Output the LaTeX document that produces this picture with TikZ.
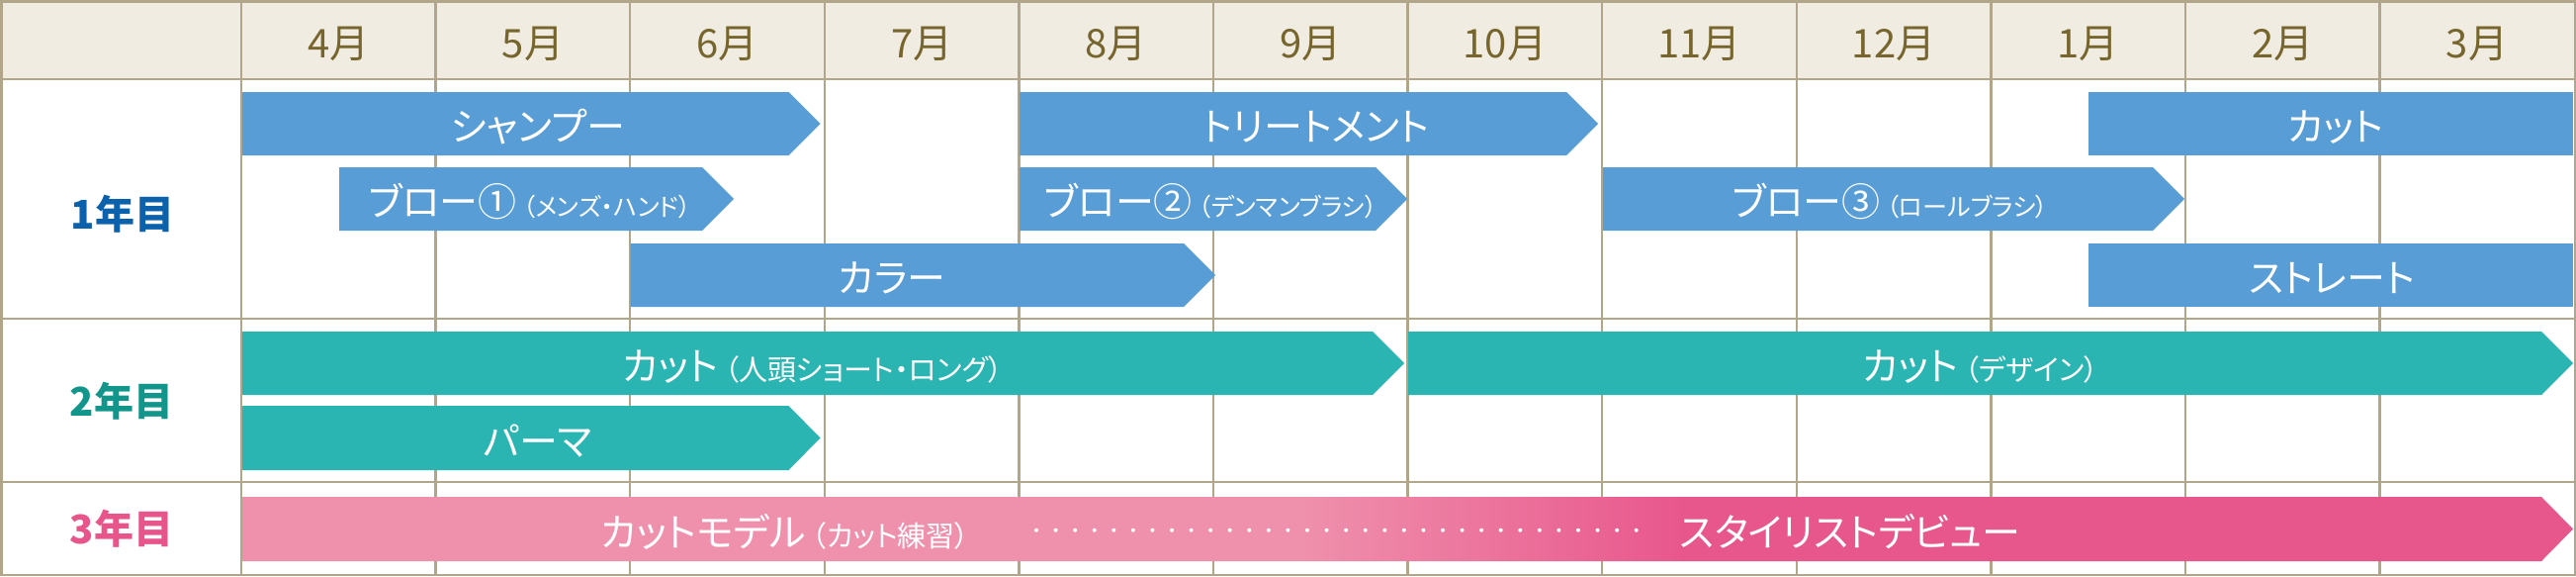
\documentclass[tikz,border=0pt]{standalone}
\usepackage{fontspec}
\newfontfamily\jp[RawFeature=+palt]{Noto Sans CJK JP}
\definecolor{gridc}{HTML}{B1A58A}
\definecolor{headbg}{HTML}{F1ECE1}
\definecolor{monthc}{HTML}{76652D}
\definecolor{barblue}{HTML}{589DD6}
\definecolor{barteal}{HTML}{2BB5B2}
\definecolor{pinkL}{HTML}{EF91AD}
\definecolor{pinkD}{HTML}{E8578C}
\definecolor{yrone}{HTML}{0C61AD}
\definecolor{yrtwo}{HTML}{12968C}
\definecolor{yrthree}{HTML}{E8558B}
\pgfdeclarehorizontalshading{pinkgrad}{100bp}{color(0bp)=(pinkL); color(47.6bp)=(pinkL); color(55.9bp)=(pinkD); color(100bp)=(pinkD)}
\newcommand\subA[1]{{\fontsize{25}{25}\selectfont #1}}
\newcommand\subB[1]{{\fontsize{29}{29}\selectfont #1}}
\newcommand\ArrowBar[5]{\fill[#1] (#2,#4) -- ({#3-32},#4) -- (#3,{(#4+#5)/2}) -- ({#3-32},#5) -- (#2,#5) -- cycle;}
\tikzset{
  gridline/.style={draw=gridc, line width=2.5pt},
  monthlabel/.style={font=\jp\fontsize{40}{40}\selectfont, text=monthc, anchor=base, inner sep=0pt},
  yearlabel/.style={font=\jp\bfseries\fontsize{40}{40}\selectfont, anchor=base, inner sep=0pt},
  bartext/.style={font=\jp\fontsize{39}{39}\selectfont, text=white, anchor=base, inner sep=0pt},
  dotc/.style={fill=white, draw=none},
}
\begin{document}
\begin{tikzpicture}[x=1pt,y=-1pt]
\useasboundingbox (0,0) rectangle (2605,582);
% header background
\fill[headbg] (0,0) rectangle (2605,80);
% grid
\foreach \k in {0,...,11} \draw[gridline] ({244+196.6*\k},1) -- ({244+196.6*\k},581);
\foreach \yy in {80,322,487} \draw[gridline] (0,\yy) -- (2605,\yy);
\draw[gridline] (1.25,1.25) rectangle (2603.75,580.75);
% month labels
\foreach \m [count=\k from 0] in {4月,5月,6月,7月,8月,9月,10月,11月,12月,1月,2月,3月}
  \node[monthlabel] (m\k) at ({244+196.6*(\k+0.5)},58.5) {\m};
% year labels
\node[yearlabel, text=yrone] (y1) at (124,231) {1年目};
\node[yearlabel, text=yrtwo] (y2) at (123,420) {2年目};
\node[yearlabel, text=yrthree] (y3) at (123,549) {3年目};
% year 1 bars
\ArrowBar{barblue}{245}{829.5}{93}{157}
\ArrowBar{barblue}{1031}{1616}{93}{157}
\fill[barblue] (2112,93) rectangle (2602,157);
\ArrowBar{barblue}{343}{742}{169}{233}
\ArrowBar{barblue}{1031}{1423}{169}{233}
\ArrowBar{barblue}{1621}{2209}{169}{233}
\ArrowBar{barblue}{637.5}{1229}{246}{310}
\fill[barblue] (2112,246) rectangle (2602,310);
% year 2 bars
\ArrowBar{barteal}{245}{1420}{335}{399}
\ArrowBar{barteal}{1424}{2602}{335}{399}
\ArrowBar{barteal}{245}{829.5}{410}{475}
% year 3 bar
\shade[shading=pinkgrad] (245,502) -- (2570,502) -- (2602,534.5) -- (2570,567) -- (245,567) -- cycle;
\foreach \i in {0,...,31} \fill[dotc] ({1048+19.57*\i},535.7) circle (2);
% bar texts
\node[bartext] (t1) at (544,142.5) {シャンプー};
\node[bartext] (t2) at (1331,142.5) {トリートメント};
\node[bartext] (t3) at (2362,142.5) {カット};
\node[bartext] (t4) at (536,218.5) {ブロー①\,\subA{（メンズ・ハンド）}};
\node[bartext] (t5) at (1224.5,218.5) {ブロー②\,\subA{（デンマンブラシ）}};
\node[bartext] (t6) at (1911.5,218.5) {ブロー③\,\subA{（ロールブラシ）}};
\node[bartext] (t7) at (902,295.5) {カラー};
\node[bartext] (t8) at (2358,295.5) {ストレート};
\node[bartext] (t9) at (821.5,384.5) {カット\,\subB{（人頭ショート・ロング）}};
\node[bartext] (t10) at (2003,384.5) {カット\,\subB{（デザイン）}};
\node[bartext] (t11) at (544,460) {パーマ};
\node[bartext] (t12) at (794,552) {カットモデル\,\subB{（カット練習）}};
\node[bartext] (t13) at (1871,552) {スタイリストデビュー};
\end{tikzpicture}
\end{document}
